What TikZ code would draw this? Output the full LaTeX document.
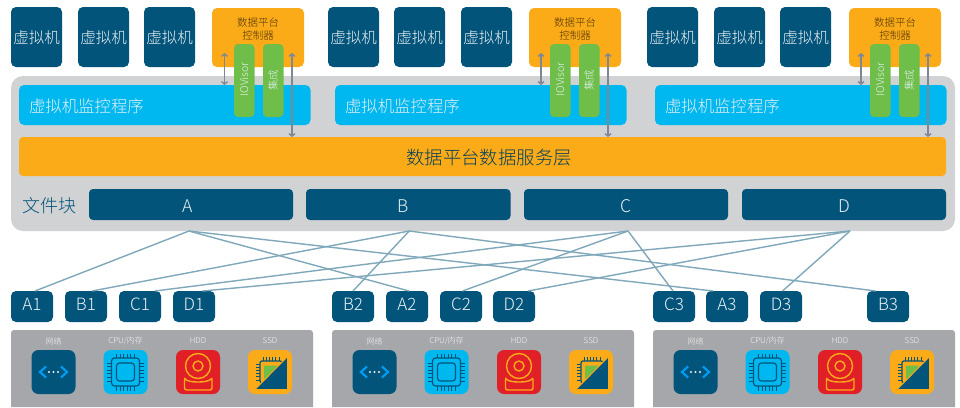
\documentclass[tikz,border=0pt]{standalone}
\usepackage{fontspec}
\setmainfont{Noto Sans CJK SC}[UprightFont=* Light,BoldFont=*]
\usetikzlibrary{arrows.meta,calc}
\definecolor{deep}{HTML}{03547A}
\definecolor{sky}{HTML}{00B8F0}
\definecolor{amber}{HTML}{FBAB18}
\definecolor{leaf}{HTML}{6FBE4A}
\definecolor{panelgray}{HTML}{D1D2D4}
\definecolor{basegray}{HTML}{A6A7AA}
\definecolor{alarm}{HTML}{E01F26}
\definecolor{linkblue}{HTML}{7FA8BA}
\definecolor{arrowgray}{HTML}{7F8795}
\definecolor{softwhite}{HTML}{E8F1F5}
\newcommand{\fs}[1]{\fontsize{#1}{#1}\selectfont}
\tikzset{
  base/.style={inner sep=0pt,outer sep=0pt,align=center},
  vmbox/.style={base,fill=deep,rounded corners=5pt,text=softwhite,font=\fs{15.5},text height=13.6pt,text depth=0pt},
  ctlbox/.style={base,fill=amber,rounded corners=5pt},
  ctltext/.style={base,text=black!70!amber,font=\fs{10.5},align=center},
  hvbox/.style={base,fill=sky,rounded corners=5pt},
  hvtext/.style={base,text=softwhite,font=\fs{16.4}},
  greenbox/.style={base,fill=leaf,rounded corners=4pt,text=softwhite,font=\fs{10.5}},
  layerbox/.style={base,fill=amber,rounded corners=4pt},
  layertext/.style={base,text=deep!75!black,font=\fs{18.4}},
  filebox/.style={base,fill=deep,rounded corners=4pt,text=softwhite,font=\fs{17.5},text height=16.8pt,text depth=0pt},
  replica/.style={base,fill=deep,rounded corners=5pt,text=softwhite,font=\fs{17},text height=8.4pt,text depth=0pt},
  panelbox/.style={base,fill=panelgray,rounded corners=12pt},
  link/.style={draw=linkblue,line width=1.4pt},
  dual/.style={draw=arrowgray,line width=1.4pt,{Straight Barb[length=2.5pt,width=6pt]}-{Straight Barb[length=2.5pt,width=6pt]}},
  iconlabel/.style={base,text=white!90!basegray,font=\fs{8}},
}
% style, name, x0, y0, x1, y1, text
\newcommand{\pnode}[7]{%
  \pgfmathsetmacro{\cxx}{(#3+#5)/2}\pgfmathsetmacro{\cyy}{(#4+#6)/2}%
  \pgfmathsetmacro{\www}{#5-#3}\pgfmathsetmacro{\hhh}{#6-#4}%
  \node[#1,minimum width=\www pt,minimum height=\hhh pt] (#2) at (\cxx,\cyy) {#7};}
\newcommand{\rnode}[7]{%
  \pgfmathsetmacro{\cxx}{(#3+#5)/2}\pgfmathsetmacro{\cyy}{(#4+#6)/2}%
  \pgfmathsetmacro{\www}{#6-#4}\pgfmathsetmacro{\hhh}{#5-#3}%
  \node[#1,rotate=90,minimum width=\www pt,minimum height=\hhh pt] (#2) at (\cxx,\cyy) {#7};}
\newcommand{\iconnet}[2]{\begin{scope}[shift={(#1,#2)}]
  \fill[deep,rounded corners=7pt] (0,0) rectangle (44,44);
  \draw[sky!85!blue,line width=2.2pt] (14.5,16.5) -- (8.5,22) -- (14.5,27.5);
  \draw[sky!85!blue,line width=2.2pt] (29.5,16.5) -- (35.5,22) -- (29.5,27.5);
  \foreach \q in {17.5,22,26.5} \fill[softwhite] (\q,22) circle (1.2);
\end{scope}}
\newcommand{\iconcpu}[2]{\begin{scope}[shift={(#1,#2)}]
  \fill[sky,rounded corners=7pt] (0,0) rectangle (44,44);
  \draw[deep,line width=1.2pt,rounded corners=3pt] (8,8) rectangle (36,36);
  \draw[deep,line width=1.2pt,rounded corners=3pt] (13,13) rectangle (31,31);
  \foreach \q in {13,16.6,20.2,23.8,27.4,31} {
    \draw[deep,line width=1pt] (\q,3.5) -- (\q,8);
    \draw[deep,line width=1pt] (\q,36) -- (\q,40.5);
    \draw[deep,line width=1pt] (3.5,\q) -- (8,\q);
    \draw[deep,line width=1pt] (36,\q) -- (40.5,\q);}
\end{scope}}
\newcommand{\iconhdd}[2]{\begin{scope}[shift={(#1,#2)}]
  \fill[alarm,rounded corners=7pt] (0,0) rectangle (44,44);
  \draw[amber,line width=1.4pt] (22,16) circle (12.5);
  \draw[amber,line width=1.4pt] (22,16) circle (5);
  \draw[amber,line width=1.4pt,rounded corners=2pt] (8.5,27.5) .. controls (12,33) and (32,33) .. (36,27.5) -- (36,40) -- (8.5,40) -- cycle;
\end{scope}}
\newcommand{\iconssd}[2]{\begin{scope}[shift={(#1,#2)}]
  \fill[amber,rounded corners=7pt] (0,0) rectangle (44,44);
  \draw[deep,line width=1.2pt,rounded corners=2pt] (12,11) rectangle (34,33);
  \foreach \q in {15,18.2,21.4,24.6,27.8,31} \draw[deep,line width=1pt] (\q,7) -- (\q,11);
  \foreach \q in {14,17.2,20.4,23.6,26.8,30} \draw[deep,line width=1pt] (7.5,\q) -- (12,\q);
  \fill[leaf] (16,15.5) -- (31,15.5) -- (16,31) -- cycle;
  \fill[deep,draw=amber,line width=1pt] (39.5,6.5) -- (39.5,39.5) -- (7,39.5) -- cycle;
\end{scope}}
\begin{document}
\begin{tikzpicture}[x=1pt,y=-1pt]
\useasboundingbox (0,0) rectangle (960,407);
\fill[white] (0,0) rectangle (960,407);

% virtual machines
\foreach \n/\xa in {1/11,2/78,3/144,4/328,5/394,6/461,7/647,8/714,9/780}{
  \pgfmathsetmacro{\xb}{\xa+51}
  \pnode{vmbox}{vm\n}{\xa}{7}{\xb}{67}{虚拟机}
}

% controllers
\foreach \n/\xa in {1/212,2/529,3/849}{
  \pgfmathsetmacro{\xb}{\xa+92}
  \pnode{ctlbox}{ctl\n}{\xa}{8}{\xb}{67}{}
  \node[ctltext] (ctltxt\n) at ($(ctl\n.north)+(0,21.5)$) {数据平台\\[2.5pt]控制器};
}

% main panel
\pnode{panelbox}{panel}{11}{76}{955}{231}{}

% hypervisors
\foreach \n/\xa in {1/19,2/335,3/655}{
  \pgfmathsetmacro{\xb}{\xa+291.5}
  \pnode{hvbox}{hv\n}{\xa}{85}{\xb}{125}{}
  \pgfmathsetmacro{\xt}{\xa+10}
  \node[hvtext,anchor=west] (hvtxt\n) at (\xt,106) {虚拟机监控程序};
}

% data layer
\pnode{layerbox}{layer}{19}{137}{946}{176}{}
\node[layertext] (layertxt) at (489,158) {数据平台数据服务层};

% green tabs
\foreach \n/\xa/\xc in {1/234/263,2/550/579,3/870/899}{
  \pgfmathsetmacro{\xb}{\xa+20.5}
  \pgfmathsetmacro{\xd}{\xc+20.5}
  \rnode{greenbox}{io\n}{\xa}{44}{\xb}{117}{}
  \rnode{greenbox}{int\n}{\xc}{44}{\xd}{117}{}
  \pgfmathsetmacro{\mx}{(\xa+\xb)/2}
  \pgfmathsetmacro{\my}{(\xc+\xd)/2}
  \node[base,rotate=90,text=softwhite,font=\fs{10.5}] (iotxt\n) at (\mx,79.5) {IOVisor};
  \node[base,rotate=90,text=softwhite,font=\fs{10.5}] (inttxt\n) at (\my,80) {集成};
}

% double arrows
\foreach \n/\xa/\xb in {1/224.5/292,2/541/608,3/861/928}{
  \coordinate (up\n) at (\xa,53);
  \coordinate (dn\n) at (\xb,53);
  \draw[dual] (up\n) -- (up\n |- hv\n.north);
  \draw[dual] (dn\n) -- (dn\n |- layer.north);
}

% file blocks
\node[base,text=deep,font=\fs{18}] (filelabel) at (49,205.5) {文件块};
\pnode{filebox}{A}{89}{189}{293}{220}{\makebox[0pt]{\kern-6pt A}}
\pnode{filebox}{B}{306}{189}{510.5}{220}{\makebox[0pt]{\kern-10pt B}}
\pnode{filebox}{C}{524}{189}{728}{220}{C}
\pnode{filebox}{D}{742}{189}{946}{220}{D}

% replicas
\foreach \nm/\xa in {A1/11,B1/65,C1/119,D1/173,B2/332,A2/386,C2/440,D2/493,C3/653,A3/706,D3/760,B3/867}{
  \pgfmathsetmacro{\xb}{\xa+42}
  \pnode{replica}{\nm}{\xa}{291}{\xb}{322}{\nm}
}

% links
\coordinate (Aout) at ($(A.south)+(-2,11)$);
\coordinate (Bout) at ($(B.south)+(1,11)$);
\coordinate (Cout) at ($(C.south)+(2,11)$);
\coordinate (Dout) at ($(D.south)+(6,11)$);
\foreach \f/\t/\s in {A/A1/3,A/A2/2,A/A3/-14,B/B1/6,B/B2/0,B/B3/-12.5,C/C1/15,C/C2/1.5,C/C3/-1,D/D1/8.5,D/D2/14,D/D3/1.5}{
  \draw[link] (\f out) -- ([xshift=\s pt]\t.north);
}

% base panels with icons
\foreach \n/\dx in {1/0,2/321,3/642}{
  \begin{scope}[shift={(\dx,0)}]
    \fill[basegray,rounded corners=3pt] (11,407) -- (11,330) -- (313,330) -- (313,407);
    \node[iconlabel] (lnet\n) at (53.5,341) {网络};
    \node[iconlabel] (lcpu\n) at (125.5,341) {CPU/内存};
    \node[iconlabel] (lhdd\n) at (198,341) {HDD};
    \node[iconlabel] (lssd\n) at (270,341) {SSD};
    \iconnet{31.5}{350}
    \iconcpu{103.5}{350}
    \iconhdd{176}{350}
    \iconssd{248}{350}
  \end{scope}
}
\end{tikzpicture}
\end{document}
